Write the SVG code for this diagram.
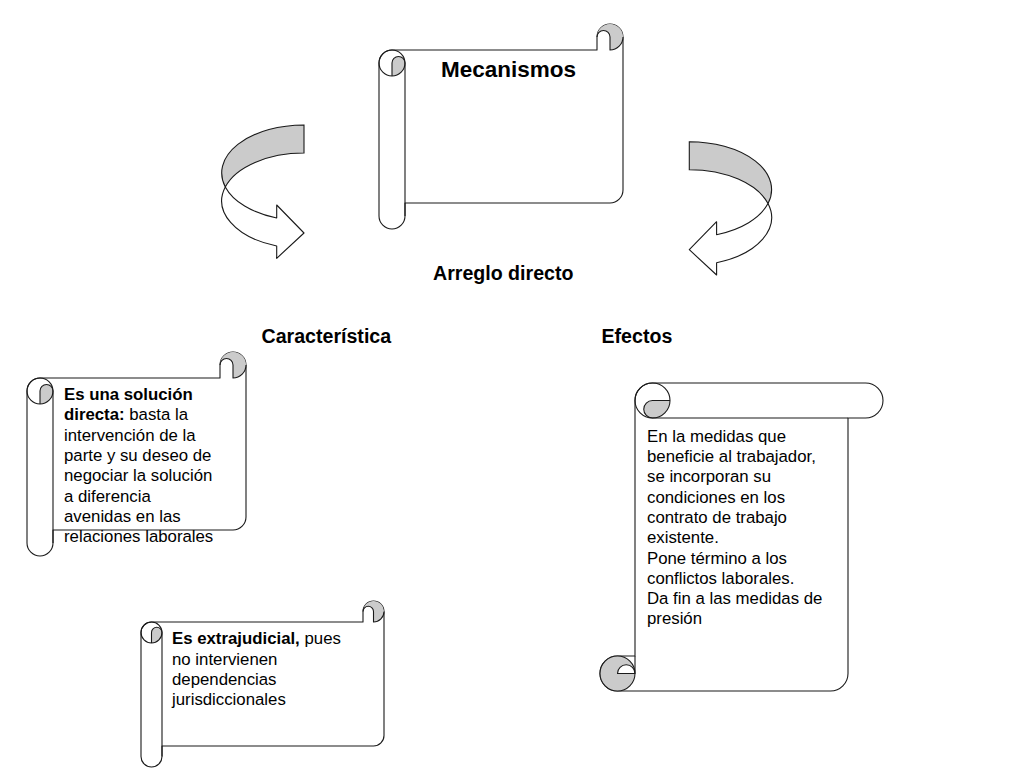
<svg xmlns="http://www.w3.org/2000/svg" xmlns:xlink="http://www.w3.org/1999/xlink" width="1024" height="768" viewBox="0 0 1024 768">
<style>
.body{fill:#ffffff;stroke:#1a1a1a;stroke-width:1.1;stroke-linejoin:round}
.shade{fill:#cbcbcb;stroke:none}
.det{fill:none;stroke:#1a1a1a;stroke-width:1.1;stroke-linejoin:round}
.lbl{font-family:"Liberation Sans",Arial,sans-serif;font-weight:bold;font-size:19.6px;fill:#000}
.ttl{font-family:"Liberation Sans",Arial,sans-serif;font-weight:bold;font-size:22.5px;fill:#000}
.txt{font-family:"Liberation Sans",Arial,sans-serif;font-size:16.8px;fill:#000}
.b{font-weight:bold}
</style>
<defs>
<g id="curvedArrow">
<path class="shade" d="M304,125 A82.3,47.9 0 0 0 225.3,186.9 A82.3,47.9 0 0 1 304,153 Z" stroke="#1a1a1a" stroke-width="1.1" style="stroke:#1a1a1a"/>
<path class="body" d="M225.3,186.9 A82.3,47.9 0 0 0 276.7,218 L276.7,205 L304,233 L276.7,258.3 L276.7,246 A82.3,47.9 0 0 1 225.3,186.9 Z"/>
</g>
</defs>

<g id="connectors">
<use id="arrow-left" xlink:href="#curvedArrow" href="#curvedArrow"/>
<use id="arrow-right" xlink:href="#curvedArrow" href="#curvedArrow" transform="translate(993.3,16.7) scale(-1,1)"/>
</g>

<g id="mecanismos">
<path class="body" d="M623,37 L623,190 A13,13 0 0 1 610,203 L405,203 L405,216 A13,13 0 0 1 379,216 L379,63 A13,13 0 0 1 392,50 L597,50 L597,37 A13,13 0 0 1 623,37 Z"/>
<path class="shade" d="M610,50 A13,13 0 1 0 597,37 A6.5,6.5 0 0 1 610,37 Z"/>
<path class="shade" d="M392,76 A13,13 0 0 0 405,63 A6.5,6.5 0 0 0 392,63 Z"/>
<path class="det" d="M597,37 A6.5,6.5 0 0 1 610,37 L610,50 A13,13 0 0 0 623,37 M392,76 L392,63 A6.5,6.5 0 0 1 405,63 L405,216"/>
<circle class="det" cx="392" cy="63" r="13"/>
<text class="ttl" x="441" y="77">Mecanismos</text>
</g>

<g id="arreglo-directo">
<text class="lbl" x="433" y="280">Arreglo directo</text>
</g>

<g id="caracteristica">
<text class="lbl" x="261.5" y="343">Característica</text>
</g>

<g id="efectos">
<text class="lbl" x="601.5" y="343">Efectos</text>
</g>

<g id="caract-1">
<path class="body" d="M246,365 L246,517 A13,13 0 0 1 233,530 L53,530 L53,543 A13,13 0 0 1 27,543 L27,391 A13,13 0 0 1 40,378 L220,378 L220,365 A13,13 0 0 1 246,365 Z"/>
<path class="shade" d="M233,378 A13,13 0 1 0 220,365 A6.5,6.5 0 0 1 233,365 Z"/>
<path class="shade" d="M40,404 A13,13 0 0 0 53,391 A6.5,6.5 0 0 0 40,391 Z"/>
<path class="det" d="M220,365 A6.5,6.5 0 0 1 233,365 L233,378 A13,13 0 0 0 246,365 M40,404 L40,391 A6.5,6.5 0 0 1 53,391 L53,543"/>
<circle class="det" cx="40" cy="391" r="13"/>
<text class="txt" x="64">
<tspan x="64" y="400" class="b">Es una solución</tspan>
<tspan x="64" y="420.3"><tspan class="b">directa:</tspan> basta la</tspan>
<tspan x="64" y="440.6">intervención de la</tspan>
<tspan x="64" y="460.9">parte y su deseo de</tspan>
<tspan x="64" y="481.2">negociar la solución</tspan>
<tspan x="64" y="501.5">a diferencia</tspan>
<tspan x="64" y="521.8">avenidas en las</tspan>
<tspan x="64" y="542.1">relaciones laborales</tspan>
</text>
</g>

<g id="caract-2">
<path class="body" d="M384,611.5 L384,735.5 A10.5,10.5 0 0 1 373.5,746 L162,746 L162,756.5 A10.5,10.5 0 0 1 141,756.5 L141,632.5 A10.5,10.5 0 0 1 151.5,622 L363,622 L363,611.5 A10.5,10.5 0 0 1 384,611.5 Z"/>
<path class="shade" d="M373.5,622 A10.5,10.5 0 1 0 363,611.5 A5.25,5.25 0 0 1 373.5,611.5 Z"/>
<path class="shade" d="M151.5,643 A10.5,10.5 0 0 0 162,632.5 A5.25,5.25 0 0 0 151.5,632.5 Z"/>
<path class="det" d="M363,611.5 A5.25,5.25 0 0 1 373.5,611.5 L373.5,622 A10.5,10.5 0 0 0 384,611.5 M151.5,643 L151.5,632.5 A5.25,5.25 0 0 1 162,632.5 L162,756.5"/>
<circle class="det" cx="151.5" cy="632.5" r="10.5"/>
<text class="txt" x="172">
<tspan x="172" y="644.3"><tspan class="b">Es extrajudicial,</tspan> pues</tspan>
<tspan x="172" y="664.6">no intervienen</tspan>
<tspan x="172" y="684.9">dependencias</tspan>
<tspan x="172" y="705.2">jurisdiccionales</tspan>
</text>
</g>

<g id="efectos-box">
<path class="body" d="M652.5,383 L865.5,383 A17.5,17.5 0 0 1 865.5,418 L848,418 L848,673.5 A17.5,17.5 0 0 1 830.5,691 L617.5,691 A17.5,17.5 0 0 1 617.5,656 L635,656 L635,400.5 A17.5,17.5 0 0 1 652.5,383 Z"/>
<path class="shade" d="M652.5,400.5 L670,400.5 A17.5,17.5 0 0 1 652.5,418 A8.75,8.75 0 0 1 652.5,400.5 Z"/>
<path class="shade" fill-rule="evenodd" d="M600,673.5 A17.5,17.5 0 1 1 635,673.5 A17.5,17.5 0 1 1 600,673.5 Z M617.5,673.5 A8.75,8.75 0 0 1 635,673.5 Z"/>
<path class="det" d="M652.5,418 L848,418 M670,400.5 L652.5,400.5 A8.75,8.75 0 0 0 652.5,418 M635,656 L635,673.5 L617.5,673.5 A8.75,8.75 0 0 1 635,673.5"/>
<circle class="det" cx="652.5" cy="400.5" r="17.5"/>
<circle class="det" cx="617.5" cy="673.5" r="17.5"/>
<text class="txt" x="647">
<tspan x="647" y="441.7">En la medidas que</tspan>
<tspan x="647" y="462">beneficie al trabajador,</tspan>
<tspan x="647" y="482.3">se incorporan su</tspan>
<tspan x="647" y="502.6">condiciones en los</tspan>
<tspan x="647" y="522.9">contrato de trabajo</tspan>
<tspan x="647" y="543.2">existente.</tspan>
<tspan x="647" y="563.5">Pone término a los</tspan>
<tspan x="647" y="583.8">conflictos laborales.</tspan>
<tspan x="647" y="604.1">Da fin a las medidas de</tspan>
<tspan x="647" y="624.4">presión</tspan>
</text>
</g>
</svg>
